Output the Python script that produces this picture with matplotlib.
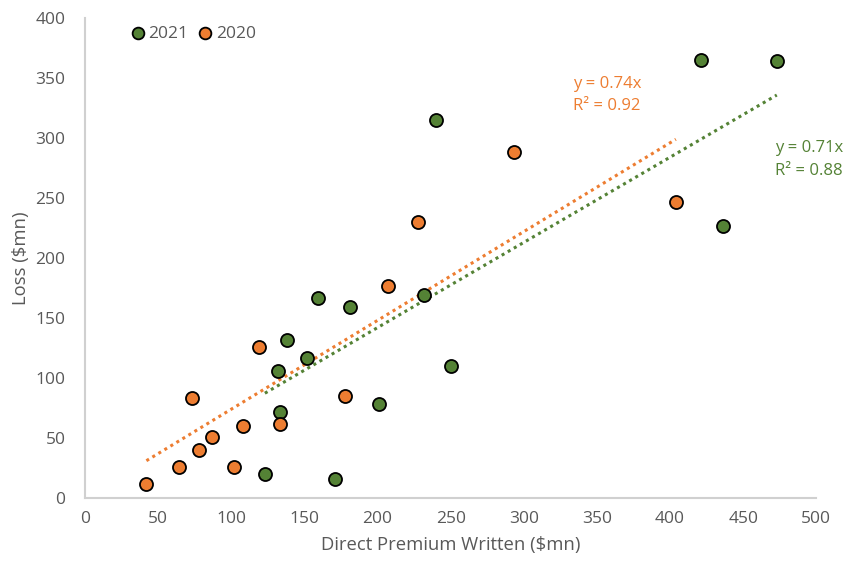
import matplotlib.pyplot as plt

plt.rcParams['font.family'] = ['Open Sans', 'DejaVu Sans']

# 2021
x_2021 = [421, 473, 240, 436, 232, 159, 181, 138, 152, 132, 250, 133, 201, 123, 171]
y_2021 = [365, 364, 315, 227, 169, 167, 159, 132, 117, 106, 110, 72, 78, 20, 16]

# 2020
x_2020 = [293, 228, 404, 207, 119, 73, 178, 108, 133, 87, 78, 64, 102, 42]
y_2020 = [288, 230, 247, 177, 126, 83, 85, 60, 62, 51, 40, 26, 26, 12]

slope_2021 = 0.71
r2_2021 = 0.88
slope_2020 = 0.74
r2_2020 = 0.92

green = '#548235'
orange = '#ED7D31'
grey = '#595959'

fig = plt.figure(figsize=(8.43, 5.64), dpi=100)
ax = fig.add_axes([0.1008, 0.117, 0.8675, 0.851])

ax.scatter(x_2021, y_2021, s=88, color=green, edgecolors='black', linewidths=1.3, label='2021', zorder=3)
ax.scatter(x_2020, y_2020, s=88, color=orange, edgecolors='black', linewidths=1.3, label='2020', zorder=3)

# trendlines (intercept 0)
tx = [min(x_2020), max(x_2020)]
ax.plot(tx, [slope_2020 * v for v in tx], color=orange, linestyle=(0, (1, 1.3)), linewidth=2.2, zorder=2)
tx = [min(x_2021), max(x_2021)]
ax.plot(tx, [slope_2021 * v for v in tx], color=green, linestyle=(0, (1, 1.3)), linewidth=2.2, zorder=2)

ax.text(334, 352, f'y = {slope_2020}x\nR² = {r2_2020}', color=orange, fontsize=12,
        ha='left', va='top', linespacing=1.55)
ax.text(472, 298, f'y = {slope_2021}x\nR² = {r2_2021}', color=green, fontsize=12,
        ha='left', va='top', linespacing=1.55)

ax.set_xlim(0, 500)
ax.set_ylim(0, 400)
ax.set_xticks(range(0, 501, 50))
ax.set_yticks(range(0, 401, 50))
ax.tick_params(length=0, labelsize=12.5, labelcolor=grey)
ax.tick_params(axis='y', pad=14)
ax.tick_params(axis='x', pad=9)

for side in ['top', 'right']:
    ax.spines[side].set_visible(False)
for side in ['left', 'bottom']:
    ax.spines[side].set_color('#D0D0D0')
    ax.spines[side].set_linewidth(1.5)

ax.set_xlabel('Direct Premium Written ($mn)', fontsize=13.3, color=grey, labelpad=7)
ax.set_ylabel('Loss ($mn)', fontsize=13.3, color=grey, labelpad=4)

ax.legend(loc='upper left', bbox_to_anchor=(0.041, 1.017), ncol=2, frameon=False,
          fontsize=12.5, labelcolor=grey, handlelength=0.8, handletextpad=0.2,
          columnspacing=0.6, markerscale=0.9)

plt.savefig('out.png', dpi=100)
